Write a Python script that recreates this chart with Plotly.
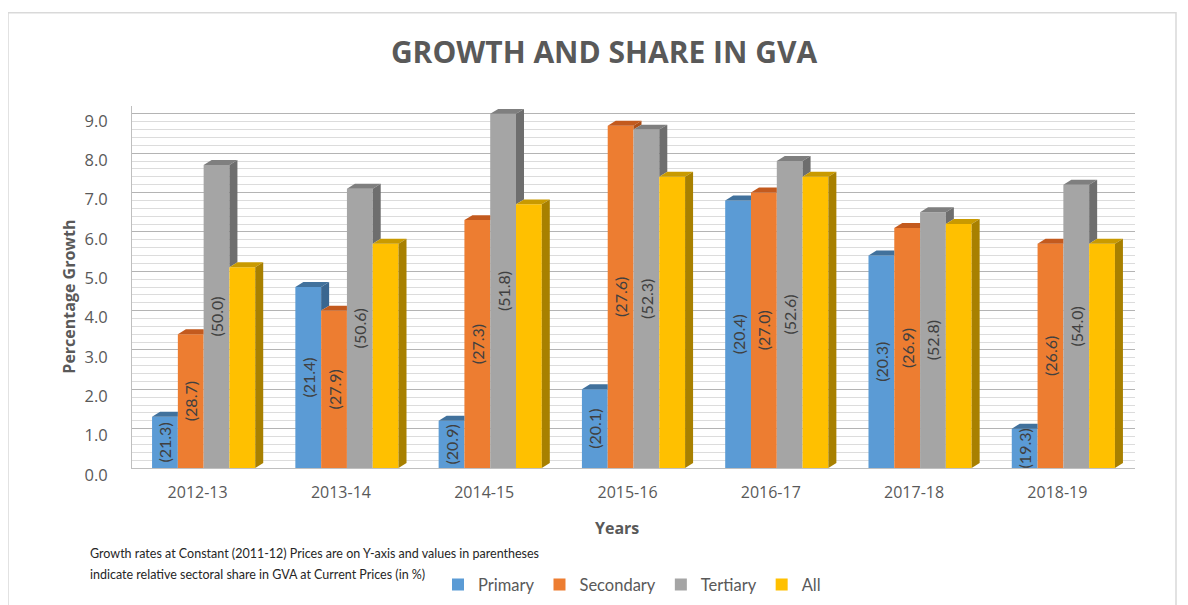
import plotly.graph_objects as go

# ---- data ----
years = ["2012-13", "2013-14", "2014-15", "2015-16", "2016-17", "2017-18", "2018-19"]
primary = [1.3, 4.6, 1.2, 2.0, 6.8, 5.4, 1.0]
secondary = [3.4, 4.0, 6.3, 8.7, 7.0, 6.1, 5.7]
tertiary = [7.7, 7.1, 9.0, 8.6, 7.8, 6.5, 7.2]
all_sectors = [5.1, 5.7, 6.7, 7.4, 7.4, 6.2, 5.7]

share_primary = [21.3, 21.4, 20.9, 20.1, 20.4, 20.3, 19.3]
share_secondary = [28.7, 27.9, 27.3, 27.6, 27.0, 26.9, 26.6]
share_tertiary = [50.0, 50.6, 51.8, 52.3, 52.6, 52.8, 54.0]

series_names = ["Primary", "Secondary", "Tertiary", "All"]
series_values = [primary, secondary, tertiary, all_sectors]
series_shares = [share_primary, share_secondary, share_tertiary, None]

# ---- styles ----
front_colors = ["#5B9BD5", "#ED7D31", "#A5A5A5", "#FFC000"]
top_colors = ["#41719C", "#C35A1E", "#7F7F7F", "#C99A00"]
side_colors = ["#3A6690", "#AE4F17", "#6E6E6E", "#A88000"]

BAR_W = 0.18
offsets = [-0.36, -0.18, 0.0, 0.18]
DX = 8 / 143.3   # depth offset (category units)
DY = 5 / 39.5    # depth offset (value units)

FONT = "Lato, 'Open Sans', sans-serif"
FONT2 = "'Open Sans', Lato, sans-serif"
GREY = "#595959"

OFF = 8  # page body margin offset
W, H = 1188, 605
L, R, T = 132 - OFF, W - (1135 - OFF), 105.6 - OFF
B = H - (469 - OFF)
PW, PH = W - L - R, H - T - B


def px(x):
    return (x - OFF - L) / PW


def py(y):
    return (H - B - (y - OFF)) / PH


xpos = list(range(len(years)))

fig = go.Figure()

# front faces (bars)
for s in range(4):
    shares = series_shares[s]
    text = [f"({v:.1f})" for v in shares] if shares else None
    fig.add_trace(go.Bar(
        name=series_names[s],
        x=xpos, y=series_values[s],
        width=BAR_W, offset=offsets[s],
        marker=dict(color=front_colors[s], line=dict(width=0)),
        text=text,
        textposition="inside" if text else "none",
        insidetextanchor="middle",
        textangle=-90,
        constraintext="none",
        textfont=dict(family=FONT, size=16, color="#404040"),
        hoverinfo="skip",
    ))

# depth faces (top and right side), derived from the same values
for s in range(4):
    tx, ty, sx, sy = [], [], [], []
    for i, c in enumerate(xpos):
        v = series_values[s][i]
        xl = c + offsets[s]
        xr = xl + BAR_W
        last = (s == 3)
        vn = None if last else series_values[s + 1][i]
        if last or vn <= v:
            tx += [xl, xr, xr + DX, xl + DX, xl, None]
            ty += [v, v, v + DY, v + DY, v, None]
        else:
            tx += [xl, xr, xr, xl + DX, xl, None]
            ty += [v, v, v + DY, v + DY, v, None]
        if last:
            sx += [xr, xr + DX, xr + DX, xr, xr, None]
            sy += [0, DY, v + DY, v, 0, None]
        elif vn < v:
            sx += [xr, xr + DX, xr + DX, xr, xr, None]
            sy += [vn, vn + DY, v + DY, v, vn, None]
    fig.add_trace(go.Scatter(x=tx, y=ty, mode="lines", fill="toself",
                             fillcolor=top_colors[s], line=dict(width=0),
                             showlegend=False, hoverinfo="skip"))
    if sx:
        fig.add_trace(go.Scatter(x=sx, y=sy, mode="lines", fill="toself",
                                 fillcolor=side_colors[s], line=dict(width=0),
                                 showlegend=False, hoverinfo="skip"))

fig.update_layout(
    width=W, height=H,
    margin=dict(l=L, r=R, t=T, b=B, pad=0),
    paper_bgcolor="white", plot_bgcolor="white",
    barmode="overlay",
    font=dict(family=FONT, color=GREY),
    title=dict(text="<b>GROWTH AND SHARE IN GVA</b>",
               x=(604 - OFF) / W, xanchor="center", y=1 - (52 - OFF) / H, yanchor="middle",
               font=dict(family=FONT2, size=30, color=GREY)),
    xaxis=dict(range=[-0.5, len(years) - 0.5], tickmode="array",
               tickvals=xpos, ticktext=years, showgrid=False, zeroline=False,
               showline=True, linecolor="#BFBFBF", linewidth=1,
               ticks="", ticklabelshift=-6, ticklabelstandoff=10,
               tickfont=dict(family=FONT2, size=16, color=GREY)),
    yaxis=dict(range=[0, 9.2], tickmode="linear", tick0=0, dtick=1,
               tickformat=".1f", showgrid=True, gridcolor="#B4B4B4", gridwidth=1,
               minor=dict(dtick=0.2, showgrid=True, gridcolor="#DCDCDC", gridwidth=1),
               zeroline=False, showline=True, linecolor="#BFBFBF", linewidth=1,
               ticks="", ticklabelshift=7, ticklabelstandoff=20,
               tickfont=dict(family=FONT2, size=16.5, color=GREY)),
    legend=dict(orientation="h", x=px(438), xanchor="left", y=py(585), yanchor="middle",
                font=dict(family=FONT, size=16.5, color=GREY), itemwidth=30,
                bgcolor="rgba(0,0,0,0)", traceorder="normal"),
    showlegend=True,
)

fig.add_annotation(text="<b>Percentage Growth</b>", textangle=-90,
                   xref="paper", yref="paper", x=px(69), y=py(297),
                   xanchor="center", yanchor="middle", showarrow=False,
                   font=dict(family=FONT2, size=16, color=GREY))
fig.add_annotation(text="<b>Years</b>",
                   xref="paper", yref="paper", x=px(617), y=py(529),
                   xanchor="center", yanchor="middle", showarrow=False,
                   font=dict(family=FONT2, size=16, color=GREY))
fig.add_annotation(text="Growth rates at Constant (2011-12) Prices are on Y-axis and values in parentheses",
                   xref="paper", yref="paper", x=px(88), y=py(555),
                   xanchor="left", yanchor="middle", showarrow=False,
                   font=dict(family=FONT, size=12.5, color="#262626"))
fig.add_annotation(text="indicate relative sectoral share in GVA at Current Prices (in %)",
                   xref="paper", yref="paper", x=px(88), y=py(576),
                   xanchor="left", yanchor="middle", showarrow=False,
                   font=dict(family=FONT, size=12.5, color="#262626"))

fig.add_shape(type="rect", xref="paper", yref="paper",
              x0=px(8), x1=px(1176), y0=py(640), y1=py(12),
              line=dict(color="#D9D9D9", width=1.5), fillcolor="rgba(0,0,0,0)", layer="below")

fig.write_html("out.html")
